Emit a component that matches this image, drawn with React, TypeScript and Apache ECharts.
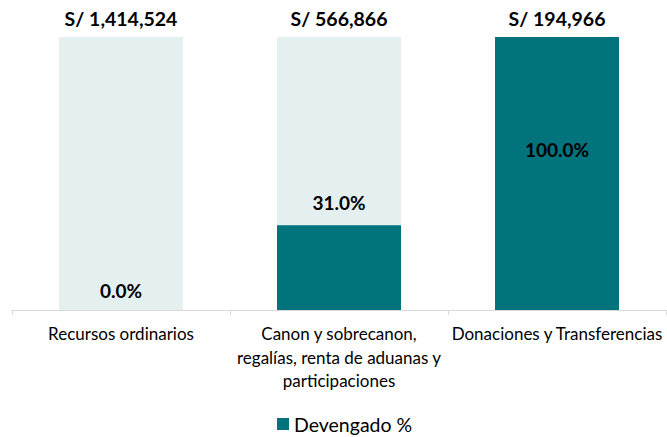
import React, { useEffect, useRef } from "react";
import * as echarts from "echarts";

const categories = [
  "Recursos ordinarios",
  "Canon y sobrecanon,\nregalías, renta de aduanas y\nparticipaciones",
  "Donaciones y Transferencias",
];
const devengadoPct = [0, 31, 100];
const totalPct = [100, 100, 100];
const montoLabels = ["S/ 1,414,524", "S/ 566,866", "S/ 194,966"];

const TEAL = "#00737C";
const LIGHT = "#E4F0F0";
const FONT = "Lato, 'Open Sans', sans-serif";

export default function App() {
  const ref = useRef<HTMLDivElement>(null);
  useEffect(() => {
    if (!ref.current) return;
    const chart = echarts.init(ref.current, null, { renderer: "svg" });
    const pctLabelCfg = [
      { position: "top", distance: 10 },
      { position: "top", distance: 13 },
      { position: "insideTop", distance: 103 },
    ];
    chart.setOption({
      animation: false,
      textStyle: { fontFamily: FONT },
      grid: { left: 12, right: 1, top: 37, bottom: 127, containLabel: false },
      legend: {
        data: [{ name: "Devengado %", icon: "rect" }],
        bottom: 0,
        left: 272,
        padding: [3, 5, 3, 5],
        itemWidth: 12,
        itemHeight: 12,
        itemGap: 4,
        textStyle: { fontSize: 19.5, lineHeight: 20, color: "#000", fontFamily: FONT },
      },
      xAxis: {
        type: "category",
        data: categories,
        axisLine: { lineStyle: { color: "#D9D9D9", width: 1 } },
        axisTick: { show: true, alignWithLabel: false, length: 5, lineStyle: { color: "#D9D9D9" } },
        axisLabel: {
          interval: 0,
          color: "#000",
          fontSize: 17,
          lineHeight: 23.5,
          margin: 12,
          fontFamily: FONT,
        },
      },
      yAxis: {
        type: "value",
        min: 0,
        max: 100,
        show: false,
        splitLine: { show: false },
      },
      series: [
        {
          name: "Total",
          type: "bar",
          data: totalPct,
          barWidth: 124,
          barGap: "-100%",
          itemStyle: { color: LIGHT },
          label: {
            show: true,
            position: "top",
            distance: 9,
            formatter: (p: any) => montoLabels[p.dataIndex],
            fontSize: 19.5,
            fontWeight: "bold",
            color: "#000",
            fontFamily: FONT,
          },
          z: 1,
        },
        {
          name: "Devengado %",
          type: "bar",
          data: devengadoPct.map((v, i) => ({
            value: v,
            label: pctLabelCfg[i],
          })),
          barWidth: 124,
          barGap: "-100%",
          itemStyle: { color: TEAL },
          label: {
            show: true,
            formatter: (p: any) => `${Number(p.value).toFixed(1)}%`,
            fontSize: 19,
            fontWeight: "bold",
            color: "#000",
            fontFamily: FONT,
          },
          z: 2,
        },
      ],
    });
    return () => chart.dispose();
  }, []);
  return <div ref={ref} style={{ width: 667, height: 437, position: "absolute", left: 0, top: 0 }} />;
}
